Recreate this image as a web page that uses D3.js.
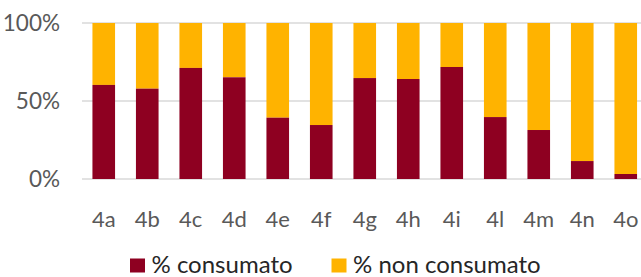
<!DOCTYPE html>
<html>
<head>
<meta charset="utf-8">
<script src="https://cdn.jsdelivr.net/npm/d3@7"></script>
<style>
  body { margin: 0; background: #fff; }
  text { font-family: Lato, "Open Sans", sans-serif; fill: #595959; }
</style>
</head>
<body>
<div id="chart"></div>
<script>
var categories = ["4a", "4b", "4c", "4d", "4e", "4f", "4g", "4h", "4i", "4l", "4m", "4n", "4o"];
var consumato = [60.3, 57.9, 71.2, 65.2, 39.3, 34.6, 64.7, 64.1, 71.8, 39.7, 31.4, 11.5, 3.2];
var seriesNames = ["% consumato", "% non consumato"];
var yTicks = [0, 50, 100];

var svgWidth = 641;
var svgHeight = 277;
var colors = ["#8E0021", "#FFB300"];

var margin = { top: 23, left: 82, bottom: 98 };
var height = svgHeight - margin.top - margin.bottom;

var svg = d3.select("#chart")
  .append("svg")
  .attr("width", svgWidth)
  .attr("height", svgHeight);

var x = d3.scaleBand()
  .domain(categories)
  .range([margin.left, margin.left + 13 * 43.5])
  .paddingInner(0.48)
  .paddingOuter(0.24);

var y = d3.scaleLinear()
  .domain([0, 100])
  .range([margin.top + height, margin.top]);

// gridlines
svg.append("g")
  .selectAll("line")
  .data(yTicks)
  .enter()
  .append("line")
  .attr("x1", margin.left)
  .attr("x2", svgWidth)
  .attr("y1", d => y(d))
  .attr("y2", d => y(d))
  .attr("stroke", "#d9d9d9")
  .attr("stroke-width", 1.5);

// y labels
svg.append("g")
  .selectAll("text")
  .data(yTicks)
  .enter()
  .append("text")
  .attr("x", 60)
  .attr("y", d => y(d) + 7.8)
  .attr("text-anchor", "end")
  .style("font-size", "22.5px")
  .text(d => d + "%");

var rows = categories.map((c, i) => ({ cat: c, a: consumato[i], b: 100 - consumato[i] }));

// non consumato (top)
svg.append("g")
  .selectAll("rect")
  .data(rows)
  .enter()
  .append("rect")
  .attr("x", d => x(d.cat))
  .attr("width", x.bandwidth())
  .attr("y", y(100))
  .attr("height", d => y(d.a) - y(100))
  .attr("fill", colors[1]);

// consumato (bottom)
svg.append("g")
  .selectAll("rect")
  .data(rows)
  .enter()
  .append("rect")
  .attr("x", d => x(d.cat))
  .attr("width", x.bandwidth())
  .attr("y", d => y(d.a))
  .attr("height", d => y(0) - y(d.a))
  .attr("fill", colors[0]);

// x labels
svg.append("g")
  .selectAll("text")
  .data(categories)
  .enter()
  .append("text")
  .attr("x", d => x(d) + x.bandwidth() / 2)
  .attr("y", 226.7)
  .attr("text-anchor", "middle")
  .style("font-size", "22px")
  .text(d => d);

// legend
var legendX = [130, 331.5];
var legend = svg.append("g")
  .selectAll("g")
  .data(seriesNames)
  .enter()
  .append("g")
  .attr("transform", (d, i) => `translate(${legendX[i]}, 258.5)`);

legend.append("rect")
  .attr("x", 0)
  .attr("y", 0)
  .attr("width", 15)
  .attr("height", 14)
  .attr("fill", (d, i) => colors[i]);

legend.append("text")
  .attr("x", 21.5)
  .attr("y", 14.5)
  .style("font-size", "24px")
  .style("fill", "#262626")
  .text(d => d);
</script>
</body>
</html>
